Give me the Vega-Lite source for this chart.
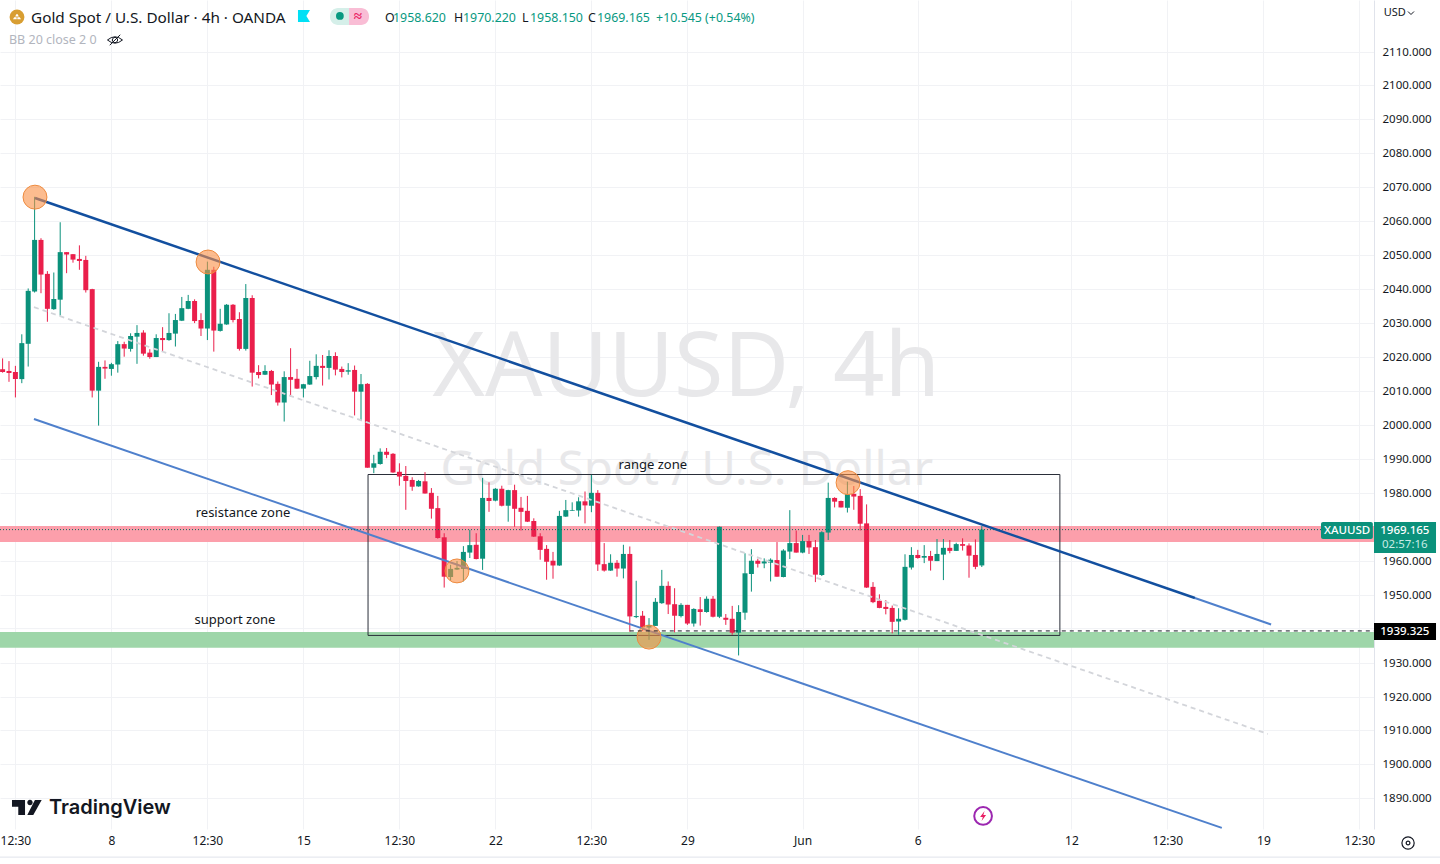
{"$schema":"https://vega.github.io/schema/vega-lite/v6.json","width":1374,"height":829,"autosize":{"type":"none"},"padding":{"left":0,"top":0,"right":66,"bottom":35},"background":"#ffffff","config":{"view":{"stroke":null},"font":"Noto Sans","text":{"font":"Noto Sans"},"scale":{"continuousPadding":0}},
"datasets":{"candles":[
{"bar":-2,"o":2016.4,"h":2019.6,"l":2015.4,"c":2015.6},{"bar":-1,"o":2015.9,"h":2018.8,"l":2012.7,"c":2015.3},{"bar":0,"o":2015.6,"h":2017.4,"l":2008.1,"c":2013.5},{"bar":1,"o":2013.5,"h":2026.7,"l":2012.3,"c":2024.1},{"bar":2,"o":2023.9,"h":2040.2,"l":2017.2,"c":2039.5},{"bar":3,"o":2039.3,"h":2067.2,"l":2039.0,"c":2054.5},{"bar":4,"o":2054.5,"h":2055,"l":2038.8,"c":2044.3},{"bar":5,"o":2044.5,"h":2045.3,"l":2030.4,"c":2034.2},{"bar":6,"o":2034.1,"h":2044.9,"l":2033.9,"c":2037.1},{"bar":7,"o":2036.9,"h":2059.7,"l":2032.2,"c":2050.9},{"bar":8,"o":2050.9,"h":2050.9,"l":2044.7,"c":2050.2},{"bar":9,"o":2050.3,"h":2050.3,"l":2047.8,"c":2048.7},{"bar":10,"o":2048.9,"h":2052.9,"l":2045.7,"c":2048.3},{"bar":11,"o":2048.6,"h":2049.8,"l":2039,"c":2039.7},{"bar":12,"o":2040,"h":2040.1,"l":2008.1,"c":2010.1},{"bar":13,"o":2010.1,"h":2018.6,"l":1999.8,"c":2017.1},{"bar":14,"o":2017.1,"h":2019,"l":2013.6,"c":2016.6},{"bar":15,"o":2016.5,"h":2018.3,"l":2014.5,"c":2017.9},{"bar":16,"o":2017.8,"h":2024.7,"l":2015.4,"c":2023.8},{"bar":17,"o":2023.8,"h":2024.5,"l":2020.1,"c":2022.5},{"bar":18,"o":2022.4,"h":2027,"l":2021.6,"c":2026.2},{"bar":19,"o":2026,"h":2029.4,"l":2018,"c":2027.1},{"bar":20,"o":2027.2,"h":2027.9,"l":2020.4,"c":2021},{"bar":21,"o":2021.3,"h":2022.3,"l":2019.5,"c":2020},{"bar":22,"o":2020,"h":2026.7,"l":2020,"c":2025.6},{"bar":23,"o":2025.6,"h":2028.8,"l":2021.5,"c":2025},{"bar":24,"o":2025,"h":2032.9,"l":2024.8,"c":2027.1},{"bar":25,"o":2026.9,"h":2032.7,"l":2023.1,"c":2030.9},{"bar":26,"o":2030.7,"h":2037.7,"l":2030.6,"c":2034.4},{"bar":27,"o":2034.2,"h":2038.3,"l":2034.1,"c":2036.5},
{"bar":28,"o":2036.5,"h":2037,"l":2030,"c":2030.6},{"bar":29,"o":2030.9,"h":2032.9,"l":2026.2,"c":2028.4},{"bar":30,"o":2028.4,"h":2048.1,"l":2025,"c":2045.7},{"bar":31,"o":2045.7,"h":2046.6,"l":2021.6,"c":2027.8},{"bar":32,"o":2027.7,"h":2034.2,"l":2027.5,"c":2029.8},{"bar":33,"o":2029.6,"h":2035.6,"l":2029.5,"c":2035.4},{"bar":34,"o":2035.4,"h":2035.6,"l":2030.2,"c":2030.9},{"bar":35,"o":2031.2,"h":2033.2,"l":2021.9,"c":2022.4},{"bar":36,"o":2022.4,"h":2041.5,"l":2021.9,"c":2037.4},{"bar":37,"o":2037.4,"h":2038.2,"l":2011.3,"c":2015.4},{"bar":38,"o":2015.6,"h":2017.6,"l":2013.7,"c":2014.7},{"bar":39,"o":2014.8,"h":2017.6,"l":2014.7,"c":2015.9},{"bar":40,"o":2015.9,"h":2016.2,"l":2008.8,"c":2011.9},{"bar":41,"o":2012.1,"h":2012.8,"l":2005.7,"c":2006.6},{"bar":42,"o":2006.6,"h":2015.8,"l":2001,"c":2014.1},{"bar":43,"o":2014.1,"h":2022.6,"l":2008.4,"c":2013.3},{"bar":44,"o":2013.6,"h":2016.5,"l":2010.6,"c":2010.7},{"bar":45,"o":2010.7,"h":2012.1,"l":2008.1,"c":2012},{"bar":46,"o":2011.9,"h":2018.9,"l":2011.8,"c":2014.4},{"bar":47,"o":2014.1,"h":2020.8,"l":2013.4,"c":2017.4},{"bar":48,"o":2017.4,"h":2020.6,"l":2011.6,"c":2016.8},{"bar":49,"o":2016.8,"h":2022,"l":2013.4,"c":2020.3},{"bar":50,"o":2020.3,"h":2021.4,"l":2014.6,"c":2016.3},{"bar":51,"o":2016.5,"h":2017.2,"l":2014,"c":2015.6},{"bar":52,"o":2015.7,"h":2018.2,"l":2014.8,"c":2016.1},{"bar":53,"o":2016.2,"h":2017.5,"l":2002.8,"c":2009.8},{"bar":54,"o":2009.8,"h":2015,"l":2001.2,"c":2012},{"bar":55,"o":2012.1,"h":2012.3,"l":1987.4,"c":1987.4},{"bar":56,"o":1987.4,"h":1991.2,"l":1985.8,"c":1988.7},{"bar":57,"o":1988.5,"h":1993.1,"l":1988.3,"c":1992.1},{"bar":58,"o":1992.1,"h":1993.2,"l":1990.2,"c":1991.2},
{"bar":59,"o":1991.5,"h":1991.7,"l":1985.9,"c":1986},{"bar":60,"o":1986.2,"h":1988.7,"l":1982.1,"c":1984.8},{"bar":61,"o":1985,"h":1987.9,"l":1975,"c":1983.5},{"bar":62,"o":1983.8,"h":1984.6,"l":1980.6,"c":1981.8},{"bar":63,"o":1981.9,"h":1983.8,"l":1981.8,"c":1983.5},{"bar":64,"o":1983.4,"h":1986.1,"l":1979.8,"c":1979.8},{"bar":65,"o":1980,"h":1981.4,"l":1972.4,"c":1975.3},{"bar":66,"o":1975.5,"h":1979.1,"l":1966.5,"c":1966.7},{"bar":67,"o":1966.9,"h":1968.1,"l":1952.1,"c":1955.3},{"bar":68,"o":1955.2,"h":1958.8,"l":1954.2,"c":1957.6},{"bar":69,"o":1957.4,"h":1959.9,"l":1957.3,"c":1957.9},{"bar":70,"o":1957.6,"h":1964.3,"l":1953.9,"c":1962.6},{"bar":71,"o":1962.4,"h":1969.1,"l":1960.8,"c":1964.6},{"bar":72,"o":1964.7,"h":1968.1,"l":1960.4,"c":1960.5},{"bar":73,"o":1960.6,"h":1984.4,"l":1957.3,"c":1978.5},{"bar":74,"o":1978.5,"h":1983.1,"l":1974.4,"c":1977.6},{"bar":75,"o":1977.7,"h":1981.4,"l":1977.5,"c":1981.2},{"bar":76,"o":1981.2,"h":1982.1,"l":1976,"c":1976.2},{"bar":77,"o":1976.2,"h":1980.9,"l":1971.5,"c":1980.8},{"bar":78,"o":1980.8,"h":1982.4,"l":1970,"c":1975.3},{"bar":79,"o":1975.6,"h":1978.8,"l":1968.9,"c":1974.4},{"bar":80,"o":1974.7,"h":1979.1,"l":1971.4,"c":1971.5},{"bar":81,"o":1971.7,"h":1972.5,"l":1967,"c":1967.1},{"bar":82,"o":1967.2,"h":1968.1,"l":1960.3,"c":1963.2},{"bar":83,"o":1963.5,"h":1964.6,"l":1954.4,"c":1959.7},
{"bar":84,"o":1960,"h":1962.6,"l":1954.7,"c":1958.6},{"bar":85,"o":1958.6,"h":1974.7,"l":1958.5,"c":1973.2},{"bar":86,"o":1973,"h":1977.9,"l":1972.9,"c":1974.9},{"bar":87,"o":1974.7,"h":1977.2,"l":1974.7,"c":1974.9},{"bar":88,"o":1974.8,"h":1978.7,"l":1973,"c":1977.5},{"bar":89,"o":1977.5,"h":1980.4,"l":1971,"c":1976.3},{"bar":90,"o":1976.2,"h":1985.3,"l":1974.3,"c":1980},{"bar":91,"o":1980,"h":1980.8,"l":1957,"c":1958.9},{"bar":92,"o":1959,"h":1965.2,"l":1956.8,"c":1957.1},{"bar":93,"o":1957.1,"h":1961.9,"l":1957,"c":1959.4},{"bar":94,"o":1959.4,"h":1960.2,"l":1955.3,"c":1957.7},{"bar":95,"o":1957.7,"h":1964.7,"l":1954.8,"c":1962},{"bar":96,"o":1962,"h":1964.2,"l":1939.1,"c":1943.6},{"bar":97,"o":1943.4,"h":1954.1,"l":1943.1,"c":1943.7},{"bar":98,"o":1943.8,"h":1945.2,"l":1939.3,"c":1940.4},{"bar":99,"o":1940.3,"h":1943.1,"l":1936.7,"c":1941.1},{"bar":100,"o":1940.8,"h":1949,"l":1940.8,"c":1947.9},{"bar":101,"o":1947.5,"h":1957.3,"l":1947.3,"c":1952.6},{"bar":102,"o":1952.6,"h":1953.9,"l":1944.3,"c":1947.1},{"bar":103,"o":1947.2,"h":1951.9,"l":1938.9,"c":1943.8},{"bar":104,"o":1943.7,"h":1947.5,"l":1943.3,"c":1947},{"bar":105,"o":1947,"h":1947,"l":1941.1,"c":1941.5},{"bar":106,"o":1941.5,"h":1946,"l":1940.6,"c":1945.8},{"bar":107,"o":1945.7,"h":1949.3,"l":1940.9,"c":1944.9},{"bar":108,"o":1944.9,"h":1949.5,"l":1944.7,"c":1948.8},{"bar":109,"o":1948.8,"h":1949.6,"l":1943.3,"c":1943.5},{"bar":110,"o":1943.5,"h":1970.1,"l":1943.1,"c":1970},{"bar":111,"o":1943.2,"h":1944.3,"l":1941.1,"c":1942.6},{"bar":112,"o":1942.9,"h":1946.7,"l":1938.2,"c":1938.8},{"bar":113,"o":1938.8,"h":1946.9,"l":1932.1,"c":1944.9},{"bar":114,"o":1944.7,"h":1962.2,"l":1942.6,"c":1956.3},
{"bar":115,"o":1956.1,"h":1963.4,"l":1950.9,"c":1960},{"bar":116,"o":1960,"h":1960.6,"l":1958,"c":1959.1},{"bar":117,"o":1959.2,"h":1960.7,"l":1957.8,"c":1959.8},{"bar":118,"o":1959.4,"h":1960.7,"l":1953.9,"c":1960.3},{"bar":119,"o":1960.2,"h":1965.5,"l":1955.3,"c":1955.3},{"bar":120,"o":1955.2,"h":1963.4,"l":1955.1,"c":1963},{"bar":121,"o":1962.7,"h":1974.9,"l":1960.5,"c":1965.2},{"bar":122,"o":1965.2,"h":1968.9,"l":1962.4,"c":1962.4},{"bar":123,"o":1962.4,"h":1967.6,"l":1962.2,"c":1965.8},{"bar":124,"o":1965.8,"h":1967.6,"l":1962,"c":1963.9},{"bar":125,"o":1964,"h":1966.1,"l":1953.7,"c":1955.9},{"bar":126,"o":1955.8,"h":1968.7,"l":1955.5,"c":1968.4},{"bar":127,"o":1968.3,"h":1983,"l":1966.1,"c":1978.5},{"bar":128,"o":1978.5,"h":1978.7,"l":1975.7,"c":1977.4},{"bar":129,"o":1977.6,"h":1977.7,"l":1975.7,"c":1975.7},{"bar":130,"o":1975.6,"h":1983.3,"l":1974.2,"c":1979.6},{"bar":131,"o":1979.7,"h":1982,"l":1975,"c":1978.9},{"bar":132,"o":1979.1,"h":1981.1,"l":1968.9,"c":1970.9},{"bar":133,"o":1971,"h":1976.6,"l":1952,"c":1952.1},{"bar":134,"o":1952.3,"h":1953.7,"l":1947.5,"c":1947.8},{"bar":135,"o":1948.2,"h":1950.1,"l":1946,"c":1946.1},{"bar":136,"o":1946.4,"h":1948.4,"l":1944.2,"c":1945.8},{"bar":137,"o":1946.1,"h":1946.8,"l":1938.6,"c":1942},{"bar":138,"o":1942.1,"h":1946,"l":1938.2,"c":1942.9},{"bar":139,"o":1942.6,"h":1961.9,"l":1942.4,"c":1958.2},{"bar":140,"o":1958,"h":1964,"l":1957.4,"c":1961.7},{"bar":141,"o":1961.7,"h":1963.2,"l":1960.6,"c":1960.8},{"bar":142,"o":1960.9,"h":1964.6,"l":1959.3,"c":1961.4},
{"bar":143,"o":1961.4,"h":1962.9,"l":1957.1,"c":1960},{"bar":144,"o":1959.9,"h":1966.4,"l":1959.9,"c":1962},{"bar":145,"o":1961.8,"h":1966.4,"l":1954.3,"c":1963.8},{"bar":146,"o":1963.8,"h":1966.1,"l":1962.2,"c":1962.9},{"bar":147,"o":1962.9,"h":1965.3,"l":1962.9,"c":1964.9},{"bar":148,"o":1964.9,"h":1966.6,"l":1963,"c":1964.4},{"bar":149,"o":1964.5,"h":1965.1,"l":1955,"c":1961.5},{"bar":150,"o":1961.7,"h":1966.3,"l":1957.5,"c":1958.2},{"bar":151,"o":1958.62,"h":1970.22,"l":1958.15,"c":1969.165}
]},
"encoding":{"x":{"field":"bar","type":"quantitative","title":null,"scale":{"domain":[-2.406,212.28],"nice":false,"zero":false,"padding":0},"axis":{"values":[0,15,30,45,60,75,90,105,123,141,165,180,195,210],"labelExpr":"datum.value==15?'8':datum.value==45?'15':datum.value==75?'22':datum.value==105?'29':datum.value==123?'Jun':datum.value==141?'6':datum.value==165?'12':datum.value==195?'19':'12:30'","grid":true,"gridColor":"#f1f2f5","gridWidth":1,"domain":false,"ticks":false,"labelFontSize":12,"labelColor":"#131722","labelPadding":6,"labelFont":"Noto Sans","labelOverlap":false,"labelFlush":false}},"y":{"field":"price","type":"quantitative","title":null,"scale":{"domain":[1880.98,2125.17],"nice":false,"zero":false},"axis":{"orient":"right","values":[1890,1900,1910,1920,1930,1950,1960,1980,1990,2000,2010,2020,2030,2040,2050,2060,2070,2080,2090,2100,2110],"format":".3f","grid":true,"gridColor":"#f1f2f5","gridWidth":1,"domain":true,"domainColor":"#e0e3eb","ticks":false,"labelFontSize":11.5,"labelColor":"#131722","labelPadding":8,"labelOffset":0.5,"labelFont":"Noto Sans","labelOverlap":false}}},
"layer":[
{"data":{"values":[{"bar":-2.406,"bar2":212.28,"price":1940}]},"mark":{"type":"rule","stroke":"#f1f2f5","strokeWidth":1},"encoding":{"x2":{"field":"bar2"}}},
{"data":{"values":[{"bar":104.8,"price":2016.5,"label":"XAUUSD, 4h"}]},"mark":{"type":"text","fontSize":90,"color":"#e8e8ea","align":"center","baseline":"middle"},"encoding":{"text":{"field":"label"}}},
{"data":{"values":[{"bar":104.9,"price":1986.4,"label":"Gold Spot / U.S. Dollar"}]},"mark":{"type":"text","fontSize":47.5,"color":"#e8e8ea","align":"center","baseline":"middle"},"encoding":{"text":{"field":"label"}}},
{"data":{"values":[{"bar":-2.406,"bar2":212.28,"price":1970.2,"price2":1965.5}]},"mark":{"type":"rect","fill":"#fc9fab"},"encoding":{"x2":{"field":"bar2"},"y2":{"field":"price2"}}},
{"data":{"values":[{"bar":-2.406,"bar2":212.28,"price":1939,"price2":1934.4}]},"mark":{"type":"rect","fill":"#9ed6a9"},"encoding":{"x2":{"field":"bar2"},"y2":{"field":"price2"}}},
{"data":{"values":[{"bar":55.1,"bar2":163.2,"price":1985.4,"price2":1938}]},"mark":{"type":"rect","fill":null,"stroke":"#2a2e39","strokeWidth":1},"encoding":{"x2":{"field":"bar2"},"y2":{"field":"price2"}}},
{"data":{"name":"candles"},"mark":{"type":"rule","strokeWidth":1},"encoding":{"y":{"field":"l","type":"quantitative","title":null,"scale":{"domain":[1880.98,2125.17],"nice":false,"zero":false}},"y2":{"field":"h"},"color":{"condition":{"test":"datum.c>=datum.o","value":"#0b917b"},"value":"#ea1f4b"}}},
{"data":{"name":"candles"},"mark":{"type":"bar","orient":"vertical","size":5},"encoding":{"y":{"field":"o","type":"quantitative","title":null,"scale":{"domain":[1880.98,2125.17],"nice":false,"zero":false}},"y2":{"field":"c"},"color":{"condition":{"test":"datum.c>=datum.o","value":"#0b917b"},"value":"#ea1f4b"}}},
{"data":{"values":[{"bar":2.9,"price":2034.7},{"bar":195.7,"price":1908.97}]},"mark":{"type":"line","stroke":"#d3d5da","strokeWidth":1.8,"strokeDash":[5,4]}},
{"data":{"values":[{"bar":2.9,"price":2001.75},{"bar":188.5,"price":1881.3}]},"mark":{"type":"line","stroke":"#4f80cc","strokeWidth":2}},
{"data":{"values":[{"bar":184.3,"price":1949.03},{"bar":196.2,"price":1941.2}]},"mark":{"type":"line","stroke":"#4f80cc","strokeWidth":2}},
{"data":{"values":[{"bar":3.06,"price":2066.85},{"bar":184.3,"price":1949.03}]},"mark":{"type":"line","stroke":"#124f9f","strokeWidth":2.5}},
{"data":{"values":[{"bar":3.06,"price":2067.1},{"bar":30.1,"price":2048},{"bar":69,"price":1957},{"bar":99,"price":1937.5},{"bar":130.1,"price":1983}]},"mark":{"type":"point","filled":true,"shape":"circle","size":572,"fill":"#fa8f45","fillOpacity":0.6,"stroke":"#ee8a3e","strokeOpacity":1,"strokeWidth":1,"opacity":1}},
{"data":{"values":[{"bar":-2.406,"bar2":212.28,"price":1969.165}]},"mark":{"type":"rule","stroke":"#0b6e5e","strokeWidth":1,"strokeDash":[1,2]},"encoding":{"x2":{"field":"bar2"}}},
{"data":{"values":[{"bar":96,"bar2":212.28,"price":1939.325}]},"mark":{"type":"rule","stroke":"#131722","strokeWidth":1,"strokeDash":[4,4]},"encoding":{"x2":{"field":"bar2"}}},
{"data":{"values":[{"bar":-2.406,"bar2":222.6,"price":1872.7}]},"mark":{"type":"rule","stroke":"#e0e3eb","strokeWidth":1},"encoding":{"x2":{"field":"bar2"}}},
{"data":{"values":[{"bar":204,"bar2":212.1,"price":1971.42,"price2":1966.4}]},"mark":{"type":"rect","fill":"#0b917b","cornerRadius":2},"encoding":{"x2":{"field":"bar2"},"y2":{"field":"price2"}}},
{"data":{"values":[{"bar":212.28,"bar2":221.97,"price":1971.42,"price2":1962.28}]},"mark":{"type":"rect","fill":"#0b917b"},"encoding":{"x2":{"field":"bar2"},"y2":{"field":"price2"}}},
{"data":{"values":[{"bar":212.28,"bar2":221.97,"price":1941.66,"price2":1936.66}]},"mark":{"type":"rect","fill":"#000000"},"encoding":{"x2":{"field":"bar2"},"y2":{"field":"price2"}}},
{"data":{"values":[{"bar":208.07,"price":1968.9,"label":"XAUUSD"},{"bar":217.1,"price":1968.9,"label":"1969.165"},{"bar":217.1,"price":1939,"label":"1939.325"}]},"mark":{"type":"text","fontSize":11.5,"color":"#ffffff","fontWeight":500,"align":"center","baseline":"middle"},"encoding":{"text":{"field":"label"}}},
{"data":{"values":[{"bar":217.1,"price":1964.6,"label":"02:57:16"}]},"mark":{"type":"text","fontSize":11.5,"color":"#c8ece6","align":"center","baseline":"middle"},"encoding":{"text":{"field":"label"}}},
{"data":{"values":[{"bar":99.6,"price":1988.2,"label":"range zone"},{"bar":35.56,"price":1974.06,"label":"resistance zone"},{"bar":34.31,"price":1942.55,"label":"support zone"}]},"mark":{"type":"text","fontSize":13,"color":"#131722","align":"center","baseline":"middle"},"encoding":{"text":{"field":"label"}}},
{"data":{"values":[{"bar":0.25,"price":2120.16}]},"mark":{"type":"point","filled":true,"shape":"circle","size":220,"fill":"#d89e32","opacity":1}},
{"data":{"values":[{"bar":0.25,"price":2120.16}]},"mark":{"type":"point","filled":true,"size":100,"fill":"#ffffff","opacity":1,"shape":"M-0.35,-0.1 L-0.15,-0.55 H0.15 L0.35,-0.1 Z M-0.8,0.45 L-0.55,0.05 H-0.1 L-0.05,0.45 Z M0.05,0.45 L0.1,0.05 H0.55 L0.8,0.45 Z"}},
{"data":{"values":[{"bar":2.44,"price":2120.0,"label":"Gold Spot / U.S. Dollar · 4h · OANDA"}]},"mark":{"type":"text","fontSize":15.3,"color":"#131722","align":"left","baseline":"middle"},"encoding":{"text":{"field":"label"}}},
{"data":{"values":[{"bar":45.09,"price":2120.46}]},"mark":{"type":"point","filled":true,"size":144,"fill":"#00e0f5","opacity":1,"shape":"M-1,-1 H1 L0.4,0 L1,1 H-1 Z"}},
{"data":{"values":[{"bar":49.16,"bar2":52.13,"price":2122.81,"price2":2117.81}]},"mark":{"type":"rect","fill":"#d5efe9","cornerRadiusTopLeft":8,"cornerRadiusBottomLeft":8},"encoding":{"x2":{"field":"bar2"},"y2":{"field":"price2"}}},
{"data":{"values":[{"bar":52.13,"bar2":55.25,"price":2122.81,"price2":2117.81}]},"mark":{"type":"rect","fill":"#f9bdd5","cornerRadiusTopRight":8,"cornerRadiusBottomRight":8},"encoding":{"x2":{"field":"bar2"},"y2":{"field":"price2"}}},
{"data":{"values":[{"bar":50.7,"price":2120.46}]},"mark":{"type":"point","filled":true,"shape":"circle","size":60,"fill":"#089981","opacity":1}},
{"data":{"values":[{"bar":53.5,"price":2120.46,"label":"≈"}]},"mark":{"type":"text","fontSize":15,"fontWeight":700,"color":"#e91e63","align":"center","baseline":"middle"},"encoding":{"text":{"field":"label"}}},
{"data":{"values":[{"bar":57.75,"price":2120.0,"label":"O"},{"bar":68.53,"price":2120.0,"label":"H"},{"bar":79.16,"price":2120.0,"label":"L"},{"bar":89.47,"price":2120.0,"label":"C"}]},"mark":{"type":"text","fontSize":12.4,"color":"#131722","align":"left","baseline":"middle"},"encoding":{"text":{"field":"label"}}},
{"data":{"values":[{"bar":59,"price":2120.0,"label":"1958.620"},{"bar":69.94,"price":2120.0,"label":"1970.220"},{"bar":80.41,"price":2120.0,"label":"1958.150"},{"bar":90.87,"price":2120.0,"label":"1969.165"},{"bar":100.1,"price":2120.0,"label":"+10.545 (+0.54%)"}]},"mark":{"type":"text","fontSize":12.4,"color":"#089981","align":"left","baseline":"middle"},"encoding":{"text":{"field":"label"}}},
{"data":{"values":[{"bar":-1,"price":2113.3,"label":"BB 20 close 2 0"}]},"mark":{"type":"text","fontSize":12.5,"color":"#b2b5be","align":"left","baseline":"middle"},"encoding":{"text":{"field":"label"}}},
{"data":{"values":[{"bar":15.56,"price":2113.39}]},"mark":{"type":"point","filled":false,"size":225,"stroke":"#131722","strokeWidth":1,"opacity":1,"shape":"M-1,0 Q0,-0.85 1,0 Q0,0.85 -1,0 Z M-0.7,0.7 L0.7,-0.7 M-0.35,0 A0.35,0.35 0 1 1 0.35,0 A0.35,0.35 0 1 1 -0.35,0 Z"}},
{"data":{"values":[{"bar":213.8,"price":2121.34,"label":"USD"}]},"mark":{"type":"text","fontSize":11,"color":"#131722","align":"left","baseline":"middle"},"encoding":{"text":{"field":"label"}}},
{"data":{"values":[{"bar":218.06,"price":2121.34}]},"mark":{"type":"point","filled":false,"size":36,"stroke":"#131722","strokeWidth":1,"opacity":1,"shape":"M-1,-0.5 L0,0.5 L1,-0.5"}},
{"data":{"values":[{"bar":217.6,"price":1876.86}]},"mark":{"type":"point","filled":false,"shape":"circle","size":150,"stroke":"#131722","strokeWidth":1.2,"opacity":1}},
{"data":{"values":[{"bar":217.6,"price":1876.86}]},"mark":{"type":"point","filled":false,"shape":"circle","size":14,"stroke":"#131722","strokeWidth":1.2,"opacity":1}},
{"data":{"values":[{"bar":151.2,"price":1884.82}]},"mark":{"type":"point","filled":true,"shape":"circle","size":314,"fill":"#ffffff","stroke":"#9c27b0","strokeWidth":2,"opacity":1}},
{"data":{"values":[{"bar":151.2,"price":1884.82}]},"mark":{"type":"point","filled":true,"size":100,"fill":"#e91e63","opacity":1,"shape":"M0.3,-1 L-0.6,0.2 H-0.05 L-0.3,1 L0.6,-0.2 H0.05 Z"}},
{"data":{"values":[{"bar":1.81,"price":1887.32}]},"mark":{"type":"point","filled":true,"size":900,"fill":"#131722","opacity":1,"shape":"M-1,-0.5 H-0.13 V0.5 H-0.58 V-0.05 H-1 Z M0.02,-0.33 A0.18,0.18 0 1 1 0.38,-0.33 A0.18,0.18 0 1 1 0.02,-0.33 Z M0.53,-0.5 H0.98 L0.42,0.5 H0.02 Z"}},
{"data":{"values":[{"bar":5.25,"price":1887.17,"label":"TradingView"}]},"mark":{"type":"text","fontSize":20,"fontWeight":600,"font":"Inter","color":"#131722","align":"left","baseline":"middle"},"encoding":{"text":{"field":"label"}}}
]}
